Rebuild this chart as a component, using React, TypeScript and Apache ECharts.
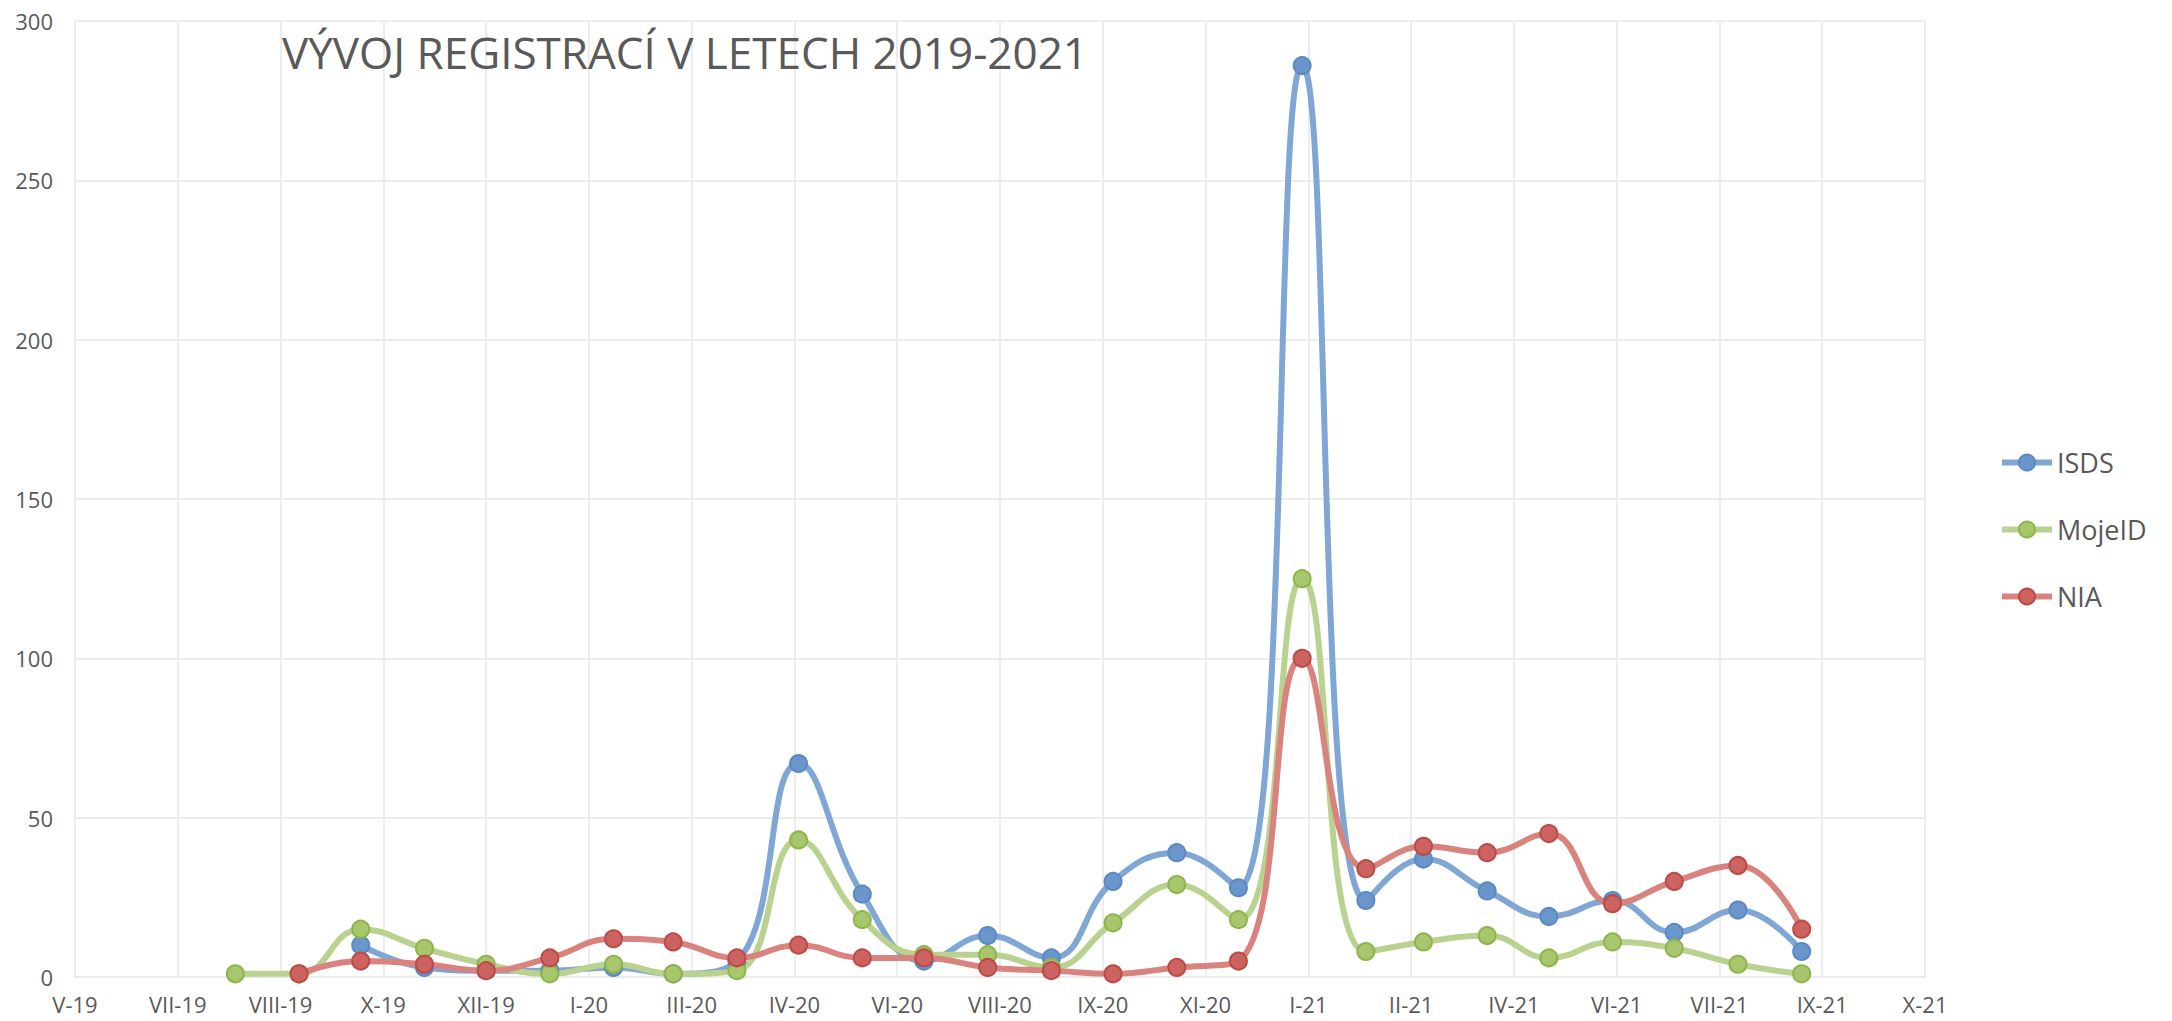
import React, { useEffect, useRef } from "react";
import * as echarts from "echarts";

// Months of the data points (first day of each month)
const MONTHS = [
  "2019-08", "2019-09", "2019-10", "2019-11", "2019-12",
  "2020-01", "2020-02", "2020-03", "2020-04", "2020-05", "2020-06",
  "2020-07", "2020-08", "2020-09", "2020-10", "2020-11", "2020-12",
  "2021-01", "2021-02", "2021-03", "2021-04", "2021-05", "2021-06",
  "2021-07", "2021-08", "2021-09",
];

const ISDS = [null, null, 10, 3, 2, 2, 3, 1, 5, 67, 26, 5, 13, 6, 30, 39, 28, 286, 24, 37, 27, 19, 24, 14, 21, 8];
const MOJEID = [1, 1, 15, 9, 4, 1, 4, 1, 2, 43, 18, 7, 7, 3, 17, 29, 18, 125, 8, 11, 13, 6, 11, 9, 4, 1];
const NIA = [null, 1, 5, 4, 2, 6, 12, 11, 6, 10, 6, 6, 3, 2, 1, 3, 5, 100, 34, 41, 39, 45, 23, 30, 35, 15];

const SERIES_NAMES = ["ISDS", "MojeID", "NIA"];
const TITLE = "VÝVOJ REGISTRACÍ V LETECH 2019-2021";

// Date axis: starts 15 May 2019, major unit 50 days
const AXIS_START = Date.UTC(2019, 4, 15);
const DAY = 86400000;
const AXIS_DAYS = 900;
const AXIS_STEP = 50;
const ROMAN = ["I", "II", "III", "IV", "V", "VI", "VII", "VIII", "IX", "X", "XI", "XII"];

const FONT = "'Open Sans', 'Noto Sans', sans-serif";

function dayOf(m: string): number {
  const [y, mo] = m.split("-").map(Number);
  return (Date.UTC(y, mo - 1, 1) - AXIS_START) / DAY;
}

function pairs(values: (number | null)[]) {
  const out: [number, number][] = [];
  values.forEach((v, i) => {
    if (v !== null && v !== undefined) out.push([dayOf(MONTHS[i]), v]);
  });
  return out;
}

export default function App() {
  const ref = useRef<HTMLDivElement>(null);

  useEffect(() => {
    document.body.style.margin = "0";
    if (!ref.current) return;
    const chart = echarts.init(ref.current, undefined, { renderer: "svg" });

    const styles = [
      { line: "#7FA6D4", fill: "#6A96CC", border: "#5C89C2" },
      { line: "#B9D290", fill: "#A8C66C", border: "#8EB44C" },
      { line: "#D9837F", fill: "#CC6360", border: "#BD4A47" },
    ];
    const data = [ISDS, MOJEID, NIA];

    chart.setOption({
      animation: false,
      backgroundColor: "#ffffff",
      title: {
        text: TITLE,
        left: 277,
        top: 25,
        textStyle: { fontSize: 44, fontWeight: "normal", color: "#595959", fontFamily: FONT },
      },
      legend: {
        orient: "vertical",
        left: 1994,
        top: 444,
        itemGap: 40,
        itemWidth: 50,
        itemHeight: 20,
        lineStyle: { width: 6 },
        textStyle: { fontSize: 27, color: "#595959", fontFamily: FONT },
        data: SERIES_NAMES,
      },
      grid: { left: 75, right: 247, top: 21, bottom: 44 },
      xAxis: {
        type: "value",
        min: 0,
        max: AXIS_DAYS,
        interval: AXIS_STEP,
        axisLine: { show: true, lineStyle: { color: "#EBEBEB", width: 2 } },
        axisTick: { show: false },
        splitLine: { show: true, lineStyle: { color: "#EDEDED", width: 2 } },
        axisLabel: {
          fontSize: 22,
          color: "#595959",
          fontFamily: FONT,
          margin: 16,
          formatter: (v: number) => {
            const d = new Date(AXIS_START + v * DAY);
            return ROMAN[d.getUTCMonth()] + "-" + String(d.getUTCFullYear() % 100).padStart(2, "0");
          },
        },
      },
      yAxis: {
        type: "value",
        min: 0,
        max: 300,
        interval: 50,
        axisLine: { show: false },
        axisTick: { show: false },
        splitLine: { show: true, lineStyle: { color: "#EDEDED", width: 2 } },
        axisLabel: { fontSize: 22, color: "#595959", fontFamily: FONT, margin: 22 },
      },
      series: SERIES_NAMES.map((name, i) => ({
        name,
        type: "line",
        smooth: 0.45,
        data: pairs(data[i]),
        symbol: "circle",
        symbolSize: 17,
        showAllSymbol: true,
        lineStyle: { color: styles[i].line, width: 6 },
        itemStyle: { color: styles[i].fill, borderColor: styles[i].border, borderWidth: 2 },
        emphasis: { disabled: true },
      })),
    });

    return () => chart.dispose();
  }, []);

  return (
    <div
      ref={ref}
      style={{ position: "fixed", left: 0, top: 0, width: 2172, height: 1021, background: "#fff" }}
    />
  );
}
